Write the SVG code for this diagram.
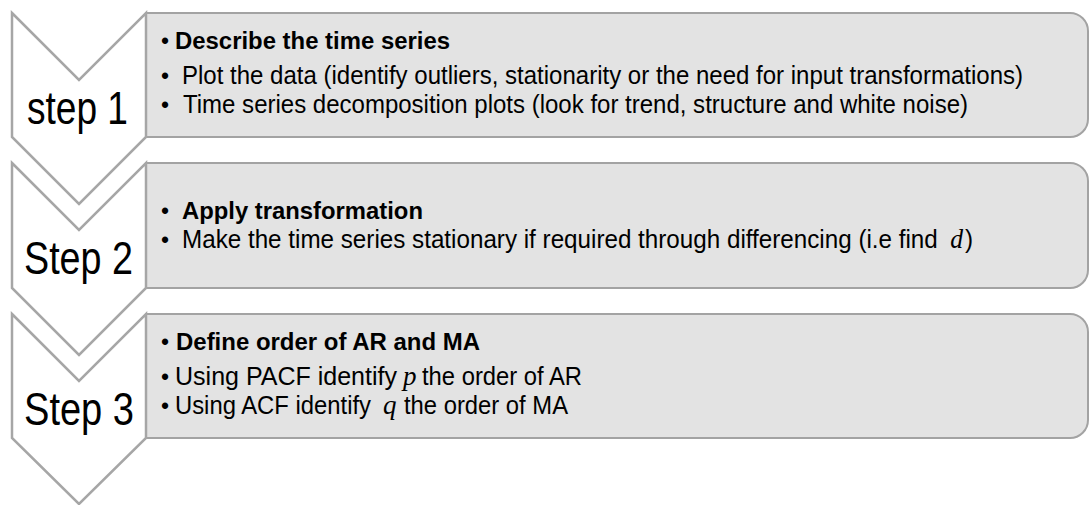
<svg xmlns="http://www.w3.org/2000/svg" width="1090" height="505" viewBox="0 0 1090 505">
<style>
.box{fill:#e3e3e3;stroke:#a3a3a3;stroke-width:2}
.chev{fill:#ffffff;stroke:#a6a6a6;stroke-width:2.5;stroke-linejoin:miter}
.step{font-family:"Liberation Sans Narrow","Liberation Sans",Arial,sans-serif;font-size:47px;fill:#000}
.b{font-family:"Liberation Sans Narrow","Liberation Sans",Arial,sans-serif;font-size:23.5px;font-weight:bold;fill:#000}
.r{font-family:"Liberation Sans Narrow","Liberation Sans",Arial,sans-serif;font-size:25.5px;fill:#000}
.u{font-family:"Liberation Sans",Arial,sans-serif;font-size:23px;fill:#000}
.m{font-family:"Liberation Serif","DejaVu Serif",serif;font-size:27px;font-style:italic;fill:#000}
</style>
<rect width="1090" height="505" fill="#ffffff"/>
<g id="box1">
<path class="box" d="M146,13 H1070 A18,18 0 0 1 1088,31 V119 A18,18 0 0 1 1070,137 H146 Z"/>
<text class="u" x="161" y="49">•</text>
<text class="b" x="175" y="49" textLength="275" lengthAdjust="spacingAndGlyphs">Describe the time series</text>
<text class="u" x="161" y="84">•</text>
<text class="r" x="182" y="84" textLength="841" lengthAdjust="spacingAndGlyphs">Plot the data (identify outliers, stationarity or the need for input transformations)</text>
<text class="u" x="161" y="113">•</text>
<text class="r" x="183" y="113" textLength="785" lengthAdjust="spacingAndGlyphs">Time series decomposition plots (look for trend, structure and white noise)</text>
</g>
<g id="box2">
<path class="box" d="M146,163 H1070 A18,18 0 0 1 1088,181 V270 A18,18 0 0 1 1070,288 H146 Z"/>
<text class="u" x="161" y="219">•</text>
<text class="b" x="182" y="219" textLength="241" lengthAdjust="spacingAndGlyphs">Apply transformation</text>
<text class="u" x="161" y="248">•</text>
<text class="r" x="182" y="248" textLength="791" lengthAdjust="spacingAndGlyphs">Make the time series stationary if required through differencing (i.e find <tspan class="m" dx="6">d</tspan><tspan dx="2">)</tspan></text>
</g>
<g id="box3">
<path class="box" d="M146,314 H1070 A18,18 0 0 1 1088,332 V420 A18,18 0 0 1 1070,438 H146 Z"/>
<text class="u" x="161" y="350">•</text>
<text class="b" x="176" y="350" textLength="304" lengthAdjust="spacingAndGlyphs">Define order of AR and MA</text>
<text class="u" x="161" y="385">•</text>
<text class="r" x="175" y="385" textLength="222" lengthAdjust="spacingAndGlyphs">Using PACF identify</text>
<text class="m" x="403" y="385">p</text>
<text class="r" x="422" y="385" textLength="160" lengthAdjust="spacingAndGlyphs">the order of AR</text>
<text class="u" x="161" y="414">•</text>
<text class="r" x="175" y="414" textLength="196" lengthAdjust="spacingAndGlyphs">Using ACF identify</text>
<text class="m" x="383" y="414">q</text>
<text class="r" x="404" y="414" textLength="164" lengthAdjust="spacingAndGlyphs">the order of MA</text>
</g>
<g id="step1">
<path class="chev" d="M12,13 L79,80 L146,13 L146,137 L79,204 L12,137 Z"/>
<text class="step" x="27" y="124" textLength="101" lengthAdjust="spacingAndGlyphs">step 1</text>
</g>
<g id="step2">
<path class="chev" d="M12,163 L79,230 L146,163 L146,288 L79,355 L12,288 Z"/>
<text class="step" x="24" y="274" textLength="109" lengthAdjust="spacingAndGlyphs">Step 2</text>
</g>
<g id="step3">
<path class="chev" d="M12,314 L79,381 L146,314 L146,438 L79,504 L12,438 Z"/>
<text class="step" x="24" y="425" textLength="110" lengthAdjust="spacingAndGlyphs">Step 3</text>
</g>
<g id="connectors"></g>
</svg>
